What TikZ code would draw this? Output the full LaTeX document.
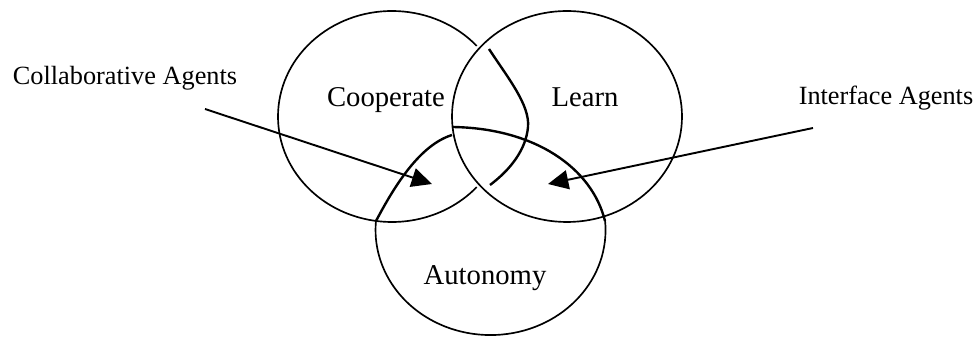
\documentclass[tikz,border=0pt]{standalone}
\usepackage{fontspec}
\setmainfont{Liberation Serif}
\usepackage{tikz}
\usetikzlibrary{arrows,arrows.meta}

\begin{document}
\begin{tikzpicture}[x=0.4184pt,y=0.4184pt]
    \tikzstyle{ring}=[line width=0.7pt]
    \tikzstyle{edge}=[line width=1pt,line join=round]
    \tikzstyle{setname}=[font=\fontsize{12}{14}\selectfont,anchor=base,inner sep=0pt]
    \tikzstyle{agent}=[font=\fontsize{11}{13}\selectfont,anchor=base,inner sep=0pt]
    \tikzstyle{pointer}=[-{Triangle[length=8.5pt,width=8pt]},line width=0.8pt]
    \useasboundingbox (0,0) rectangle (979,-337);

    \draw[ring] (567,-116.5) ellipse [x radius=115, y radius=105.5];
    \draw[ring] (392,-116.5) ++(42:114 and 105.5) arc[start angle=42, end angle=318, x radius=114, y radius=105.5];
    \draw[ring] (605,-220) arc[start angle=5.5, end angle=-185.5, x radius=115, y radius=105];
    \draw[edge] (489,-49) .. controls (508,-78) and (530,-105) .. (528,-127)
                .. controls (526,-150) and (510,-170) .. (490,-185);
    \draw[edge] (452,-127) .. controls (535,-128) and (592,-168) .. (605,-221);
    \draw[edge] (376,-221) .. controls (395,-185) and (420,-145) .. (452,-135);

    \node[setname] (coop) at (386,-107) {Cooperate};
    \node[setname] (learn) at (585,-107) {Learn};
    \node[setname] (auto) at (485,-285) {Autonomy};
    \node[agent] (collab) at (125,-85) {Collaborative Agents};
    \node[agent] (iface) at (886,-105) {Interface Agents};

    \coordinate (collabtail) at (205,-109);
    \coordinate (collabhead) at (432,-184);
    \coordinate (ifacetail) at (813,-128);
    \coordinate (ifacehead) at (548,-184);
    \draw[pointer] (collabtail) -- (collabhead);
    \draw[pointer] (ifacetail) -- (ifacehead);
\end{tikzpicture}
\end{document}
